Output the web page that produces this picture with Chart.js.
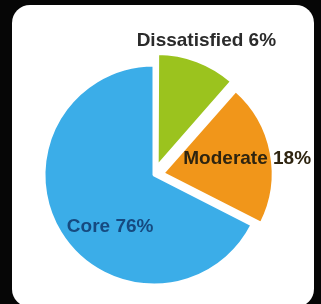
<!DOCTYPE html>
<html>
<head>
<meta charset="utf-8">
<script src="https://cdn.jsdelivr.net/npm/chart.js@4/dist/chart.umd.min.js"></script>
<style>
	html, body {
		margin: 0;
		padding: 0;
		width: 321px;
		height: 304px;
		overflow: hidden;
		background: #060606;
	}
	.card {
		position: absolute;
		left: 12px;
		top: 5px;
		width: 302px;
		height: 302px;
		background: #fff;
		border-radius: 18px;
	}
	.wrap {
		position: absolute;
		left: 0;
		top: 0;
		width: 321px;
		height: 304px;
	}
</style>
</head>
<body>
<div class="card"></div>
<div class="wrap"><canvas id="pie"></canvas></div>
<script>
// slice sizes as drawn in the picture, labels as printed on it
var categories = ['Dissatisfied', 'Moderate', 'Core'];
var shares = [11.5, 21, 67.5];
var percentLabels = ['6%', '18%', '76%'];
var sliceColors = ['#9bc31e', '#f1961a', '#3bade8'];
var textColors = ['#2b2b2b', '#2e2410', '#164a80'];

// where each label sits: angle (deg, canvas) and distance as part of the radius
var labelPlacement = [
	{angle: -68.7, dist: 1.31},
	{angle: -10, dist: 0.86},
	{angle: 130, dist: 0.62}
];

var sliceLabels = {
	id: 'sliceLabels',
	afterDatasetsDraw: function (chart) {
		var ctx = chart.ctx;
		var arcs = chart.getDatasetMeta(0).data;
		var cx = chart.chartArea.left + chart.chartArea.width / 2;
		var cy = chart.chartArea.top + chart.chartArea.height / 2;
		var r = arcs[0].outerRadius;
		ctx.save();
		ctx.font = 'bold 19px "Liberation Sans", Arial, sans-serif';
		ctx.textAlign = 'center';
		ctx.textBaseline = 'middle';
		categories.forEach(function (name, i) {
			var p = labelPlacement[i];
			var a = p.angle * Math.PI / 180;
			ctx.fillStyle = textColors[i];
			ctx.fillText(name + ' ' + percentLabels[i], cx + Math.cos(a) * r * p.dist, cy + Math.sin(a) * r * p.dist);
		});
		ctx.restore();
	}
};

new Chart(document.getElementById('pie'), {
	type: 'pie',
	data: {
		labels: categories,
		datasets: [{
			data: shares,
			backgroundColor: sliceColors,
			borderColor: '#ffffff',
			borderWidth: 3,
			offset: [36, 36, 0]
		}]
	},
	options: {
		responsive: true,
		maintainAspectRatio: false,
		animation: false,
		radius: 110,
		layout: {
			padding: {left: 0, right: 13, top: 46, bottom: 0}
		},
		plugins: {
			legend: {display: false},
			tooltip: {enabled: false}
		}
	},
	plugins: [sliceLabels]
});
</script>
</body>
</html>
